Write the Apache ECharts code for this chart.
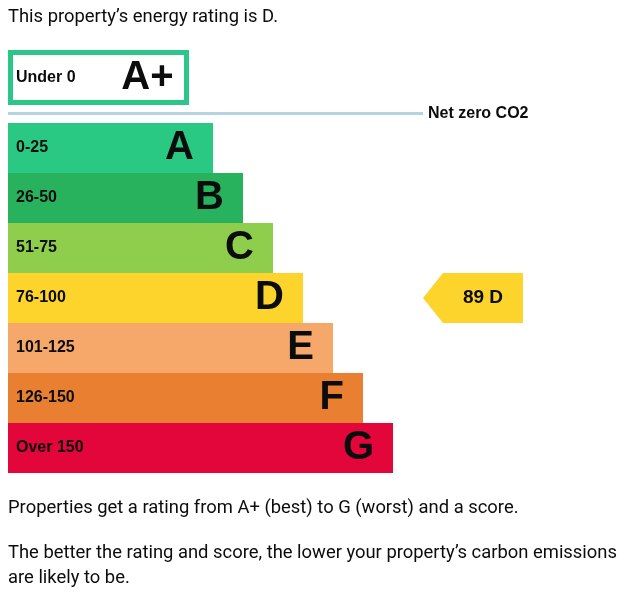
<!DOCTYPE html>
<html>
<head>
<meta charset="utf-8">
<script src="https://cdn.jsdelivr.net/npm/echarts@6/dist/echarts.min.js"></script>
<style>
  html, body { margin: 0; padding: 0; background: #ffffff; }
  #chart { width: 638px; height: 615px; }
</style>
</head>
<body>
<div id="chart"></div>
<script>
// ---- data ----
const ratings = ['A', 'B', 'C', 'D', 'E', 'F', 'G'];
const scoreRanges = ['0-25', '26-50', '51-75', '76-100', '101-125', '126-150', 'Over 150'];
const bandLengths = [205, 235, 265, 295, 325, 355, 385];
const bandColors = ['#29c883', '#29b25e', '#8ece4c', '#fcd42b', '#f6a86b', '#e97f31', '#e2063b'];
const topRating = ['A+'];
const topRange = ['Under 0'];
const topLength = [181];
const currentRating = 'D';
const currentScore = 89;
const titleText = 'This property\u2019s energy rating is D.';
const netZeroLabel = 'Net zero CO2';
const noteLines = [
  'Properties get a rating from A+ (best) to G (worst) and a score.',
  'The better the rating and score, the lower your property\u2019s carbon emissions',
  'are likely to be.'
];

const TEXT = '#0b0c0c';
const BOLD = '"Liberation Sans", Arial, sans-serif';
const BODY = 'Roboto, "Noto Sans", sans-serif';
const BODY_FONT = '18.4px ' + BODY;

const chart = echarts.init(document.getElementById('chart'), null, { renderer: 'canvas' });

const option = {
  animation: false,
  backgroundColor: '#ffffff',
  grid: [
    { left: 8, top: 50, width: 600, height: 55, containLabel: false },
    { left: 8, top: 123, width: 600, height: 350, containLabel: false }
  ],
  xAxis: [
    { gridIndex: 0, type: 'value', min: 0, max: 600, show: false },
    { gridIndex: 1, type: 'value', min: 0, max: 600, show: false }
  ],
  yAxis: [
    { gridIndex: 0, type: 'category', data: topRating, inverse: true, show: false },
    { gridIndex: 1, type: 'category', data: ratings, inverse: true, show: false }
  ],
  series: [
    {
      type: 'bar', xAxisIndex: 0, yAxisIndex: 0, barWidth: 55,
      data: topLength.map(function (v) { return v; }),
      itemStyle: { color: '#ffffff', borderColor: '#2cc68a', borderWidth: 5 },
      label: {
        show: true, position: 'insideLeft', distance: 8,
        formatter: function (p) { return topRange[p.dataIndex]; },
        color: TEXT, fontFamily: BOLD, fontWeight: 'bold', fontSize: 16
      },
      silent: true
    },
    {
      type: 'bar', xAxisIndex: 0, yAxisIndex: 0, barWidth: 55, barGap: '-100%',
      data: topLength.map(function (v) { return v; }),
      itemStyle: { color: 'rgba(0,0,0,0)' },
      label: {
        show: true, position: 'insideRight', distance: 15.5,
        formatter: function (p) { return topRating[p.dataIndex]; },
        color: TEXT, fontFamily: BOLD, fontWeight: 'bold', fontSize: 40
      },
      silent: true
    },
    {
      type: 'bar', xAxisIndex: 1, yAxisIndex: 1, barWidth: 50,
      data: bandLengths.map(function (v, i) { return { value: v, itemStyle: { color: bandColors[i] } }; }),
      label: {
        show: true, position: 'insideLeft', distance: 8,
        formatter: function (p) { return scoreRanges[p.dataIndex]; },
        color: TEXT, fontFamily: BOLD, fontWeight: 'bold', fontSize: 16
      },
      silent: true
    },
    {
      type: 'bar', xAxisIndex: 1, yAxisIndex: 1, barWidth: 50, barGap: '-100%',
      data: bandLengths.map(function (v) { return v; }),
      itemStyle: { color: 'rgba(0,0,0,0)' },
      label: {
        show: true, position: 'insideRight', distance: 19,
        formatter: function (p) { return ratings[p.dataIndex]; },
        color: TEXT, fontFamily: BOLD, fontWeight: 'bold', fontSize: 40
      },
      silent: true
    },
    {
      type: 'custom', xAxisIndex: 1, yAxisIndex: 1,
      data: [[0, currentRating, currentScore]],
      renderItem: function (params, api) {
        const catIdx = ratings.indexOf(currentRating);
        const yc = api.coord([0, catIdx])[1];
        const h = api.size([0, 1])[1];
        const x0 = params.coordSys.x + 415;
        const tip = 20, w = 100;
        return {
          type: 'group',
          children: [
            {
              type: 'polygon',
              shape: { points: [[x0, yc], [x0 + tip, yc - h / 2], [x0 + w, yc - h / 2], [x0 + w, yc + h / 2], [x0 + tip, yc + h / 2]] },
              style: { fill: bandColors[catIdx] }
            },
            {
              type: 'text',
              style: {
                x: x0 + tip + (w - tip) / 2, y: yc,
                text: api.value(2) + ' ' + currentRating,
                align: 'center', verticalAlign: 'middle',
                fill: TEXT, font: 'bold 19px ' + BOLD
              }
            }
          ]
        };
      },
      silent: true
    }
  ],
  graphic: [
    {
      type: 'text', x: 8, y: 17,
      style: { text: titleText, fill: TEXT, font: BODY_FONT, verticalAlign: 'middle' }
    },
    {
      type: 'line', silent: true,
      shape: { x1: 8, y1: 113.5, x2: 423, y2: 113.5 },
      style: { stroke: '#b4d5df', lineWidth: 3 }
    },
    {
      type: 'text', x: 428, y: 113.5,
      style: { text: netZeroLabel, fill: TEXT, font: 'bold 16px ' + BOLD, verticalAlign: 'middle' }
    },
    {
      type: 'text', x: 8, y: 508,
      style: { text: noteLines[0], fill: TEXT, font: BODY_FONT, verticalAlign: 'middle' }
    },
    {
      type: 'text', x: 8, y: 553,
      style: { text: noteLines[1], fill: TEXT, font: BODY_FONT, verticalAlign: 'middle' }
    },
    {
      type: 'text', x: 8, y: 578,
      style: { text: noteLines[2], fill: TEXT, font: BODY_FONT, verticalAlign: 'middle' }
    }
  ]
};

chart.setOption(option);
</script>
</body>
</html>
